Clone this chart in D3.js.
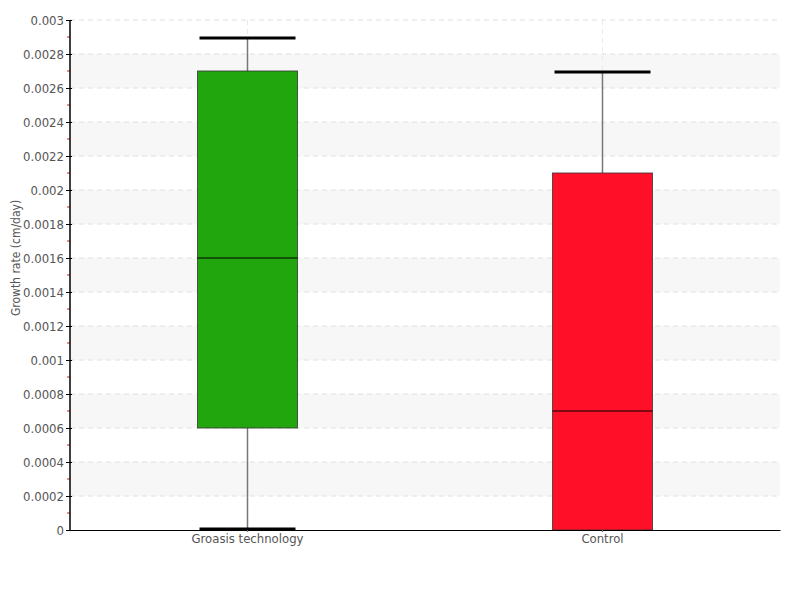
<!DOCTYPE html>
<html>
<head>
<meta charset="utf-8">
<script src="https://cdn.jsdelivr.net/npm/d3@7"></script>
<style>
  body { margin: 0; background: #fff; }
  text { font-family: "DejaVu Sans", sans-serif; font-stretch: condensed; fill: #555; }
</style>
</head>
<body>
<div id="chart"></div>
<script>
// data
const categories = ["Groasis technology", "Control"];
const mins = [0, 0];
const q1s = [0.0006, 0];
const medians = [0.0016, 0.0007];
const q3s = [0.0027, 0.0021];
const maxs = [0.0029, 0.0027];
const colors = ["#22a60e", "#ff0f28"];
const yTicks = [0, 0.0002, 0.0004, 0.0006, 0.0008, 0.001, 0.0012, 0.0014, 0.0016, 0.0018,
                0.002, 0.0022, 0.0024, 0.0026, 0.0028, 0.003];
const yTitle = "Growth rate (cm/day)";

let dimensions = {
  width: 800,
  height: 600,
  margin: { top: 20, right: 20, bottom: 70, left: 70 },
};
dimensions.boundedWidth = dimensions.width - dimensions.margin.left - dimensions.margin.right;
dimensions.boundedHeight = dimensions.height - dimensions.margin.top - dimensions.margin.bottom;

const wrapper = d3.select("#chart").append("svg")
  .attr("width", dimensions.width)
  .attr("height", dimensions.height);

const bounds = wrapper.append("g")
  .attr("transform", `translate(${dimensions.margin.left},${dimensions.margin.top})`);

const x = d3.scaleBand().domain(categories).range([0, dimensions.boundedWidth]).padding(0);
const y = d3.scaleLinear().domain([0, 0.003]).range([dimensions.boundedHeight, 0]);

// alternating bands
const bandStarts = yTicks.filter((d, i) => i % 2 === 1 && i < yTicks.length - 1);
bounds.selectAll(".band").data(bandStarts).join("rect")
  .attr("x", 0)
  .attr("width", dimensions.boundedWidth)
  .attr("y", d => y(yTicks[yTicks.indexOf(d) + 1]))
  .attr("height", d => y(d) - y(yTicks[yTicks.indexOf(d) + 1]))
  .attr("fill", "#f7f7f7");

// grid lines
bounds.selectAll(".hgrid").data(yTicks.slice(1)).join("line")
  .attr("x1", 0).attr("x2", dimensions.boundedWidth)
  .attr("y1", d => y(d)).attr("y2", d => y(d))
  .attr("stroke", "#e0e0e0")
  .style("stroke-dasharray", "5,4");

bounds.selectAll(".vgrid").data(categories).join("line")
  .attr("x1", d => x(d) + x.bandwidth() / 2).attr("x2", d => x(d) + x.bandwidth() / 2)
  .attr("y1", 0).attr("y2", dimensions.boundedHeight)
  .attr("stroke", "#eaeaea")
  .style("stroke-dasharray", "5,4");

// minor ticks (red)
const minorTicks = yTicks.slice(0, -1).map((d, i) => (d + yTicks[i + 1]) / 2);
bounds.selectAll(".minor").data(minorTicks).join("line")
  .attr("x1", -3).attr("x2", 0)
  .attr("y1", d => y(d)).attr("y2", d => y(d))
  .attr("stroke", "#d62020");

// boxes
const boxWidth = 100;
const capWidth = 96;
const box = bounds.selectAll(".box").data(categories).join("g")
  .attr("transform", d => `translate(${x(d) + x.bandwidth() / 2},0)`);

box.append("line")
  .attr("y1", (d, i) => y(mins[i]) + 2)
  .attr("y2", (d, i) => y(maxs[i]))
  .attr("stroke", "#777")
  .attr("stroke-width", 1.5);

box.append("line")
  .attr("x1", -capWidth / 2).attr("x2", capWidth / 2)
  .attr("y1", (d, i) => y(maxs[i]) + 1).attr("y2", (d, i) => y(maxs[i]) + 1)
  .attr("stroke", "#000").attr("stroke-width", 3);

box.append("line")
  .attr("x1", -capWidth / 2).attr("x2", capWidth / 2)
  .attr("y1", (d, i) => y(mins[i]) - 1).attr("y2", (d, i) => y(mins[i]) - 1)
  .attr("stroke", "#000").attr("stroke-width", 3);

box.append("rect")
  .attr("x", -boxWidth / 2)
  .attr("width", boxWidth)
  .attr("y", (d, i) => y(q3s[i]))
  .attr("height", (d, i) => y(q1s[i]) - y(q3s[i]))
  .attr("fill", (d, i) => colors[i])
  .attr("stroke", "#333")
  .attr("stroke-opacity", 0.8)
  .attr("stroke-width", 1);

box.append("line")
  .attr("x1", -boxWidth / 2).attr("x2", boxWidth / 2)
  .attr("y1", (d, i) => y(medians[i])).attr("y2", (d, i) => y(medians[i]))
  .attr("stroke", "#000").attr("stroke-width", 1);

// axes
const yAxisGenerator = d3.axisLeft(y).tickValues(yTicks).tickSize(4).tickFormat(d => d3.format("~g")(+d.toFixed(4)));
const yAxis = bounds.append("g").call(yAxisGenerator);
yAxis.select(".domain").remove();
yAxis.selectAll(".tick line").attr("x1", -4).attr("x2", 2).attr("stroke", "#000");
yAxis.selectAll("text").attr("x", -6).style("font-size", "13px").attr("fill", "#555");

bounds.append("line")
  .attr("x1", 0).attr("x2", 0)
  .attr("y1", 0).attr("y2", dimensions.boundedHeight)
  .attr("stroke", "#000").attr("stroke-width", 1.5);

const xAxisGenerator = d3.axisBottom(x).tickSize(2).tickSizeOuter(0);
const xAxis = bounds.append("g")
  .attr("transform", `translate(0,${dimensions.boundedHeight})`)
  .call(xAxisGenerator);
xAxis.select(".domain").attr("stroke", "#000").attr("stroke-width", 1.2);
xAxis.selectAll(".tick line").attr("stroke", "#777");
xAxis.selectAll("text").attr("dy", "0.65em").style("font-size", "13px").attr("fill", "#555");

// y title
wrapper.append("text")
  .attr("transform", `translate(20,${dimensions.margin.top + dimensions.boundedHeight / 2 - 17}) rotate(-90)`)
  .attr("text-anchor", "middle")
  .style("font-size", "12px")
  .text(yTitle);
</script>
</body>
</html>
